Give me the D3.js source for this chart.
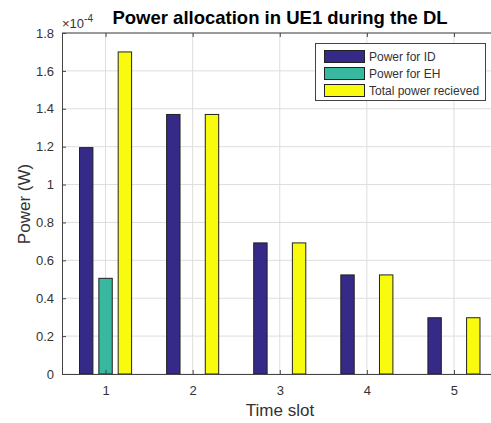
<!DOCTYPE html>
<meta charset="utf-8">
<script src="https://d3js.org/d3.v7.min.js"></script>
<style>
  body { margin: 0; background: #fff; }
  text { font-family: Helvetica, Arial, "Liberation Sans", sans-serif; }
</style>
<svg id="chart" width="491" height="423"></svg>
<script>
// data (values in units of 1e-4 W)
var slots = [1, 2, 3, 4, 5];
var seriesNames = ["Power for ID", "Power for EH", "Total power recieved"];
var powerID = [1.195, 1.37, 0.692, 0.523, 0.297];
var powerEH = [0.505, 0, 0, 0, 0];
var powerTotal = [1.70, 1.37, 0.692, 0.523, 0.297];
var yTicks = [0, 0.2, 0.4, 0.6, 0.8, 1, 1.2, 1.4, 1.6, 1.8];
var colors = ["#352a87", "#38b89e", "#f9fb0e"];

var series = [powerID, powerEH, powerTotal];

var svg = d3.select("#chart");
var mLeft = 62, mRight = 497.5, mTop = 33, mBottom = 374;

var x = d3.scaleLinear().domain([0.5, 5.5]).range([mLeft, mRight]);
var y = d3.scaleLinear().domain([0, 1.8]).range([mBottom, mTop]);

// grid
var grid = svg.append("g");
grid.selectAll(".gx").data(slots).enter().append("line")
    .attr("x1", d => x(d)).attr("x2", d => x(d))
    .attr("y1", mTop).attr("y2", mBottom)
    .attr("stroke", "#dedede").attr("stroke-width", 1);
grid.selectAll(".gy").data(yTicks).enter().append("line")
    .attr("x1", mLeft).attr("x2", mRight)
    .attr("y1", d => y(d)).attr("y2", d => y(d))
    .attr("stroke", "#dedede").attr("stroke-width", 1);

// bars
var offset = 0.222, barW = 0.154;
series.forEach(function(vals, i) {
    svg.append("g").selectAll("rect")
        .data(vals.map((v, j) => ({slot: slots[j], v: v})).filter(d => d.v > 0))
        .enter().append("rect")
        .attr("x", d => x(d.slot + (i - 1) * offset - barW / 2))
        .attr("width", x(barW) - x(0))
        .attr("y", d => y(d.v))
        .attr("height", d => y(0) - y(d.v))
        .attr("fill", colors[i])
        .attr("stroke", "#222")
        .attr("stroke-width", 1);
});

// axes
var xAxis = d3.axisBottom(x).tickValues(slots).tickSize(-4).tickPadding(12).tickFormat(d3.format("d"));
var yAxis = d3.axisLeft(y).tickValues(yTicks).tickSize(-4).tickPadding(8).tickFormat(d => d3.format("~g")(d));

var gx = svg.append("g").attr("transform", "translate(0," + mBottom + ")").call(xAxis);
var gy = svg.append("g").attr("transform", "translate(" + mLeft + ",0)").call(yAxis);
var gxt = svg.append("g").attr("transform", "translate(0," + mTop + ")")
    .call(d3.axisTop(x).tickValues(slots).tickSize(-4).tickFormat(""));
[gx, gy, gxt].forEach(function(g) {
    g.select(".domain").attr("stroke", "#444");
    g.selectAll(".tick line").attr("stroke", "#444");
    g.selectAll(".tick text").attr("fill", "#333").style("font-size", "13px");
});
gxt.select(".domain").attr("d", "M" + mLeft + ",0H" + mRight);

// exponent label
var ex = svg.append("text").attr("x", 62).attr("y", 28).attr("fill", "#333").style("font-size", "13px");
ex.append("tspan").text("×10");
ex.append("tspan").attr("dy", -6).style("font-size", "10px").text("-4");

// title and labels
svg.append("text").attr("x", 280).attr("y", 24).attr("text-anchor", "middle")
    .style("font-size", "18.5px").style("font-weight", "bold").attr("fill", "#000")
    .text("Power allocation in UE1 during the DL");
svg.append("text").attr("x", 280).attr("y", 416).attr("text-anchor", "middle")
    .style("font-size", "17px").attr("fill", "#333").text("Time slot");
svg.append("text").attr("transform", "translate(30,204) rotate(-90)").attr("text-anchor", "middle")
    .style("font-size", "17px").attr("fill", "#333").text("Power (W)");

// legend
var lg = svg.append("g");
lg.append("rect").attr("x", 315.5).attr("y", 43.5).attr("width", 170).attr("height", 57)
    .attr("fill", "#fff").attr("stroke", "#444");
seriesNames.forEach(function(name, i) {
    var yy = 50 + i * 17;
    lg.append("rect").attr("x", 324.5).attr("y", yy + 0.5).attr("width", 40).attr("height", 12)
        .attr("fill", colors[i]).attr("stroke", "#222");
    lg.append("text").attr("x", 369).attr("y", yy + 11).style("font-size", "12px")
        .attr("fill", "#333").text(name);
});
</script>
